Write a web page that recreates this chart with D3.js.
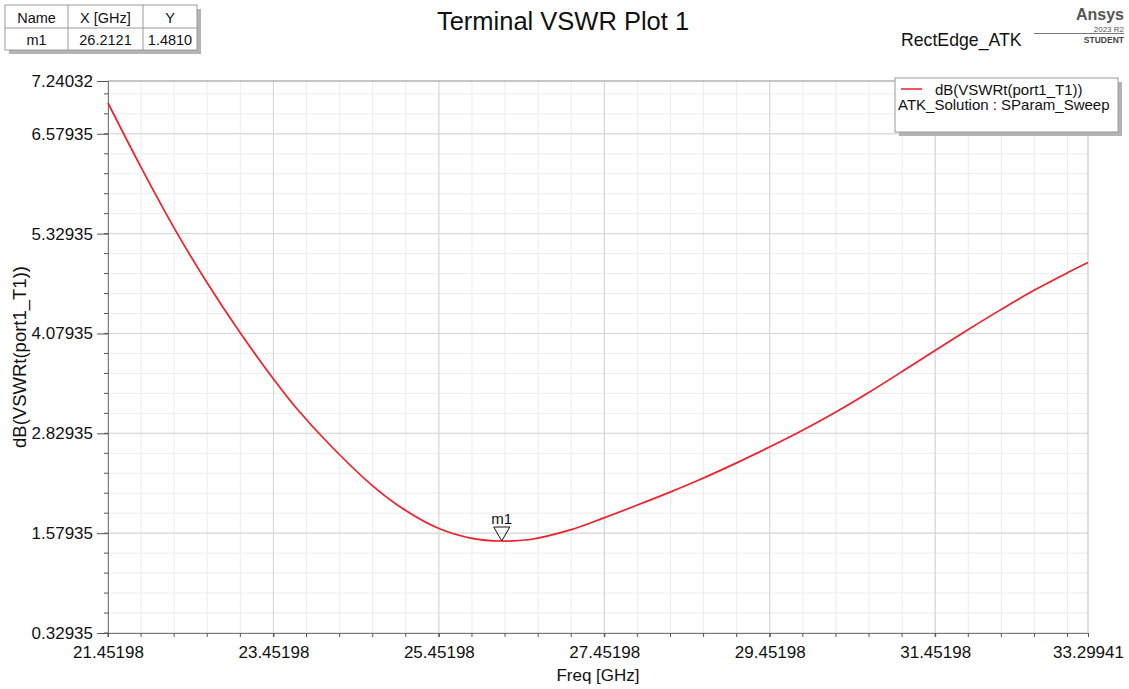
<!DOCTYPE html>
<html>
<head>
<meta charset="utf-8">
<script src="https://cdn.jsdelivr.net/npm/d3@7"></script>
<style>
  body { margin: 0; background: #fff; }
  svg { font-family: "Liberation Sans", Arial, sans-serif; display: block; }
</style>
</head>
<body>
<script>
// curve: frequency [GHz] and dB(VSWRt)
const freq = [21.45198, 21.852, 22.252, 22.652, 23.052, 23.452, 23.733, 24.136, 24.64, 25.042,
  25.445, 25.849, 26.2121, 26.554, 27.04, 27.44, 27.844, 28.246, 28.609, 29.032,
  29.455, 29.838, 30.241, 30.643, 31.047, 31.45, 31.852, 32.256, 32.658, 33.061, 33.29941];
const vswrDb = [6.965, 6.159, 5.399, 4.711, 4.085, 3.510, 3.140, 2.683, 2.182, 1.869,
  1.640, 1.515, 1.481, 1.500, 1.620, 1.768, 1.928, 2.093, 2.251, 2.450,
  2.660, 2.860, 3.089, 3.337, 3.599, 3.866, 4.129, 4.384, 4.626, 4.845, 4.968];

const xTicks = [21.45198, 23.45198, 25.45198, 27.45198, 29.45198, 31.45198, 33.29941];
const yTicks = [0.32935, 1.57935, 2.82935, 4.07935, 5.32935, 6.57935, 7.24032];
const xDomain = [21.45198, 33.29941];
const yDomain = [0.32935, 7.24032];

const markerName = "m1";
const markerX = 26.2121;
const markerY = 1.4810;

const title = "Terminal VSWR Plot 1";
const designName = "RectEdge_ATK";
const traceName = "dB(VSWRt(port1_T1))";
const solutionName = "ATK_Solution : SParam_Sweep";
const xLabel = "Freq [GHz]";
const yLabel = "dB(VSWRt(port1_T1))";

const width = 1129, height = 689;
const marginTop = 81, marginBottom = 56, marginLeft = 108, marginRight = 41;

const x = d3.scaleLinear()
    .domain(xDomain)
    .range([marginLeft, width - marginRight]);

const y = d3.scaleLinear()
    .domain(yDomain)
    .range([height - marginBottom, marginTop]);

// minor steps: 0.4 GHz, 0.25 dB
const xMinor = d3.range(0, 30).map(i => xDomain[0] + i * 0.4).filter(v => v <= xDomain[1]);
const yMinor = d3.range(0, 30).map(i => yDomain[0] + i * 0.25).filter(v => v <= yDomain[1]);
const xMajor = xTicks.slice(0, -1);
const yMajor = yTicks.slice(0, -1);

const svg = d3.select("body").append("svg")
    .attr("width", width)
    .attr("height", height);

const plotBottom = height - marginBottom, plotRight = width - marginRight;

// grid
svg.append("g")
    .attr("stroke", "#ececec")
    .selectAll("line")
    .data(xMinor)
    .join("line")
    .attr("x1", d => x(d)).attr("x2", d => x(d))
    .attr("y1", marginTop).attr("y2", plotBottom);

svg.append("g")
    .attr("stroke", "#ececec")
    .selectAll("line")
    .data(yMinor)
    .join("line")
    .attr("y1", d => y(d)).attr("y2", d => y(d))
    .attr("x1", marginLeft).attr("x2", plotRight);

svg.append("g")
    .attr("stroke", "#d4d4d4")
    .selectAll("line")
    .data(xMajor)
    .join("line")
    .attr("x1", d => x(d)).attr("x2", d => x(d))
    .attr("y1", marginTop).attr("y2", plotBottom);

svg.append("g")
    .attr("stroke", "#d4d4d4")
    .selectAll("line")
    .data(yMajor)
    .join("line")
    .attr("y1", d => y(d)).attr("y2", d => y(d))
    .attr("x1", marginLeft).attr("x2", plotRight);

// frame: top / right light, left / bottom axes darker
svg.append("line")
    .attr("x1", marginLeft).attr("x2", plotRight)
    .attr("y1", marginTop).attr("y2", marginTop)
    .attr("stroke", "#8c8c8c");
svg.append("line")
    .attr("x1", plotRight).attr("x2", plotRight)
    .attr("y1", marginTop).attr("y2", plotBottom)
    .attr("stroke", "#bdbdbd");

// axes
const yAxis = svg.append("g")
    .attr("transform", `translate(${marginLeft},0)`)
    .call(d3.axisLeft(y).tickValues(yTicks).tickFormat(d3.format(".5f")).tickSize(11).tickPadding(4));
yAxis.append("g")
    .selectAll("line")
    .data(yMinor)
    .join("line")
    .attr("x1", -4).attr("x2", 0)
    .attr("y1", d => y(d)).attr("y2", d => y(d))
    .attr("stroke", "#555");

const xAxis = svg.append("g")
    .attr("transform", `translate(0,${plotBottom})`)
    .call(d3.axisBottom(x).tickValues(xTicks).tickFormat(d3.format(".5f")).tickSize(4).tickPadding(9));
xAxis.append("g")
    .selectAll("line")
    .data(xMinor)
    .join("line")
    .attr("y1", 0).attr("y2", 4)
    .attr("x1", d => x(d)).attr("x2", d => x(d))
    .attr("stroke", "#555");

[yAxis, xAxis].forEach(g => {
  g.select(".domain").attr("stroke", "#7a7a7a");
  g.selectAll(".tick line").attr("stroke", "#555");
  g.selectAll("text")
      .attr("fill", "#111")
      .attr("font-size", 17)
      .attr("font-family", "'Liberation Sans', Arial, sans-serif");
});

// trace
svg.append("path")
    .datum(freq.map((f, i) => [f, vswrDb[i]]))
    .attr("fill", "none")
    .attr("stroke", "#f0202a")
    .attr("stroke-width", 1.7)
    .attr("d", d3.line()
        .x(d => x(d[0]))
        .y(d => y(d[1]))
        .curve(d3.curveCatmullRom.alpha(0.5)));

// marker
const mx = x(markerX), my = y(markerY);
svg.append("path")
    .attr("d", `M${mx - 8},${my - 14}L${mx + 8},${my - 14}L${mx},${my}Z`)
    .attr("fill", "none")
    .attr("stroke", "#111")
    .attr("stroke-width", 1);
svg.append("text")
    .attr("x", mx)
    .attr("y", my - 17)
    .attr("text-anchor", "middle")
    .attr("font-size", 15)
    .attr("fill", "#111")
    .text(markerName);

// axis titles
svg.append("text")
    .attr("x", x((xDomain[0] + xDomain[1]) / 2))
    .attr("y", 681)
    .attr("text-anchor", "middle")
    .attr("font-size", 17)
    .attr("fill", "#111")
    .text(xLabel);

svg.append("text")
    .attr("transform", `translate(26,${y((yDomain[0] + yDomain[1]) / 2)}) rotate(-90)`)
    .attr("text-anchor", "middle")
    .attr("font-size", 18.5)
    .attr("fill", "#111")
    .text(yLabel);

// title
svg.append("text")
    .attr("x", 563)
    .attr("y", 30)
    .attr("text-anchor", "middle")
    .attr("font-size", 25.5)
    .attr("fill", "#111")
    .text(title);

// legend box
const lg = svg.append("g").attr("transform", "translate(895,78)");
lg.append("rect").attr("x", 4).attr("y", 4).attr("width", 223).attr("height", 54).attr("fill", "#b4b4b4");
lg.append("rect").attr("x", 0).attr("y", 0).attr("width", 223).attr("height", 54)
    .attr("fill", "#fff").attr("stroke", "#9a9a9a");
lg.append("line").attr("x1", 6).attr("x2", 27).attr("y1", 11).attr("y2", 11)
    .attr("stroke", "#f0202a").attr("stroke-width", 1.5);
lg.append("text").attr("x", 40).attr("y", 17).attr("font-size", 15).attr("fill", "#111").text(traceName);
lg.append("text").attr("x", 3).attr("y", 32).attr("font-size", 15).attr("fill", "#111").text(solutionName);

// marker table
const tableCols = ["Name", "X [GHz]", "Y"];
const tableRow = [markerName, markerX.toFixed(4), markerY.toFixed(4)];
const colEdges = [5, 68, 143, 197];
const tg = svg.append("g");
tg.append("rect").attr("x", 9).attr("y", 9).attr("width", 192).attr("height", 45).attr("fill", "#b4b4b4");
tg.append("rect").attr("x", 5).attr("y", 5).attr("width", 192).attr("height", 45)
    .attr("fill", "#fff").attr("stroke", "#9a9a9a");
tg.append("line").attr("x1", 5).attr("x2", 197).attr("y1", 28).attr("y2", 28).attr("stroke", "#9a9a9a");
[68, 143].forEach(cx => tg.append("line").attr("x1", cx).attr("x2", cx).attr("y1", 5).attr("y2", 50).attr("stroke", "#9a9a9a"));
tableCols.forEach((c, i) => {
  const cx = (colEdges[i] + colEdges[i + 1]) / 2;
  tg.append("text").attr("x", cx).attr("y", 23).attr("text-anchor", "middle")
      .attr("font-size", 14.5).attr("fill", "#111").text(c);
  tg.append("text").attr("x", cx).attr("y", 45).attr("text-anchor", "middle")
      .attr("font-size", 14.5).attr("fill", "#111").text(tableRow[i]);
});

// design name + Ansys badge
svg.append("text").attr("x", 901).attr("y", 46).attr("font-size", 17.7).attr("fill", "#111").text(designName);
svg.append("line").attr("x1", 1034).attr("x2", 1124).attr("y1", 33.5).attr("y2", 33.5).attr("stroke", "#777");
svg.append("text").attr("x", 1124).attr("y", 19.5).attr("text-anchor", "end")
    .attr("font-size", 16).attr("font-weight", "bold").attr("fill", "#555").text("Ansys");
svg.append("text").attr("x", 1124).attr("y", 32).attr("text-anchor", "end")
    .attr("font-size", 8).attr("fill", "#555").text("2023 R2");
svg.append("text").attr("x", 1124).attr("y", 43).attr("text-anchor", "end")
    .attr("font-size", 8.5).attr("font-weight", "bold").attr("fill", "#444").text("STUDENT");
</script>
</body>
</html>
